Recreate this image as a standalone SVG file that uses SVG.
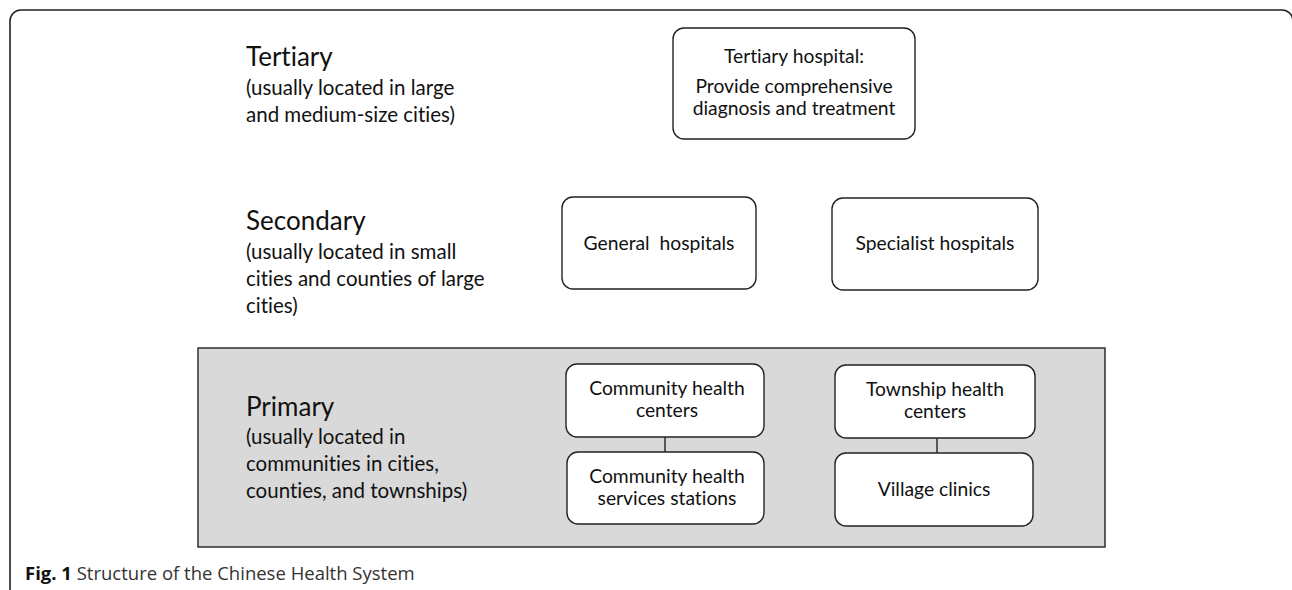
<svg xmlns="http://www.w3.org/2000/svg" width="1292" height="590" viewBox="0 0 1292 590">
<style>
.frame{fill:none;stroke:#222;stroke-width:1.6}
.box{fill:#fff;stroke:#222;stroke-width:1.4}
.band{fill:#d9d9d9;stroke:#222;stroke-width:1.4}
.conn{stroke:#222;stroke-width:1.4;fill:none}
text{font-family:Lato,"Liberation Sans",sans-serif;fill:#111;font-variant-ligatures:none}
.title{font-size:26px}
.sub{font-size:20.5px}
.bt{font-size:19.3px;text-anchor:middle}
.cap{font-family:"Open Sans","Liberation Sans",sans-serif;font-size:18.5px;fill:#333}
.capb{font-weight:bold;fill:#111}
</style>
<rect class="frame" x="10" y="10" width="1283" height="700" rx="11"/>
<g id="band-primary">
<rect class="band" x="198" y="348" width="907" height="199"/>
</g>
<g id="label-tertiary">
<text class="title" x="246" y="66">Tertiary</text>
<text class="sub" x="246" y="95">(usually located in large</text>
<text class="sub" x="246" y="122">and medium-size cities)</text>
</g>
<g id="label-secondary">
<text class="title" x="246" y="230">Secondary</text>
<text class="sub" x="246" y="259">(usually located in small</text>
<text class="sub" x="246" y="286">cities and counties of large</text>
<text class="sub" x="246" y="313">cities)</text>
</g>
<g id="label-primary">
<text class="title" x="246" y="416">Primary</text>
<text class="sub" x="246" y="444">(usually located in</text>
<text class="sub" x="246" y="471">communities in cities,</text>
<text class="sub" x="246" y="498">counties, and townships)</text>
</g>
<g id="connectors">
<line class="conn" x1="665" y1="437" x2="665" y2="452"/>
<line class="conn" x1="937" y1="438" x2="937" y2="453"/>
</g>
<g id="node-tertiary-hospital">
<rect class="box" x="673" y="28" width="242" height="111" rx="11"/>
<text class="bt" x="794" y="63">Tertiary hospital:</text>
<text class="bt" x="794" y="93">Provide comprehensive</text>
<text class="bt" x="794" y="115">diagnosis and treatment</text>
</g>
<g id="node-general-hospitals">
<rect class="box" x="562" y="197" width="194" height="92" rx="11"/>
<text class="bt" x="659" y="250" xml:space="preserve">General  hospitals</text>
</g>
<g id="node-specialist-hospitals">
<rect class="box" x="832" y="198" width="206" height="92" rx="11"/>
<text class="bt" x="935" y="250">Specialist hospitals</text>
</g>
<g id="node-community-health-centers">
<rect class="box" x="566" y="364" width="198" height="73" rx="11"/>
<text class="bt" x="667" y="395">Community health</text>
<text class="bt" x="667" y="417">centers</text>
</g>
<g id="node-community-health-services-stations">
<rect class="box" x="567" y="452" width="197" height="72" rx="11"/>
<text class="bt" x="667" y="483">Community health</text>
<text class="bt" x="667" y="505">services stations</text>
</g>
<g id="node-township-health-centers">
<rect class="box" x="835" y="365" width="200" height="73" rx="11"/>
<text class="bt" x="935" y="396">Township health</text>
<text class="bt" x="935" y="418">centers</text>
</g>
<g id="node-village-clinics">
<rect class="box" x="835" y="453" width="198" height="73" rx="11"/>
<text class="bt" x="934" y="496">Village clinics</text>
</g>
<g id="caption">
<text class="cap" x="25" y="580"><tspan class="capb">Fig. 1</tspan> Structure of the Chinese Health System</text>
</g>
</svg>
